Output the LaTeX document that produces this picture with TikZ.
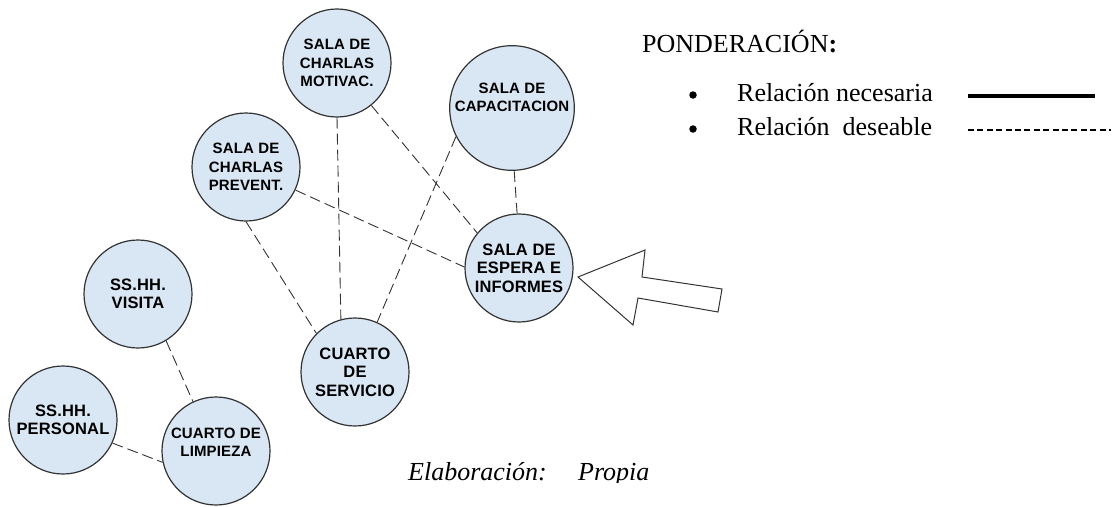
\documentclass[tikz,border=0pt]{standalone}
\usepackage{fontspec}
\setmainfont{Liberation Serif}
\newfontfamily\nodefont{Liberation Sans Bold}[LetterSpace=1]
\begin{document}
\begin{tikzpicture}[x=1pt,y=-1pt,
  place/.style={circle, draw=black!80, line width=1.2pt, fill=circfill,
    minimum size=108pt, inner sep=0pt, align=center,
    font=\nodefont\fontsize{15}{18.3}\selectfont},
  bigtext/.style={font=\nodefont\fontsize{16.5}{18.5}\selectfont},
  rel/.style={draw=black!80, line width=0.9pt, dash pattern=on 11pt off 5pt},
  bullet/.style={circle, fill=black, inner sep=0pt, minimum size=7.5pt},
  legend/.style={font=\fontsize{26}{30}\selectfont, inner sep=0pt, anchor=base west}]
\definecolor{circfill}{HTML}{D9E7F5}
\useasboundingbox (0,0) rectangle (1115,506);

% places
\node[place] (mot)  at (337,63)  {SALA DE\\CHARLAS\\MOTIVAC.};
\node[place] (cap)  at (512,108) {SALA DE\\CAPACITACION\\[-2pt]\strut};
\node[place] (prev) at (246,167) {SALA DE\\CHARLAS\\PREVENT.};
\node[place, bigtext] (esp) at (519,268) {SALA DE\\ESPERA E\\INFORMES};
\node[place, bigtext] (vis) at (138,294) {SS.HH.\\VISITA};
\node[place, bigtext] (serv) at (355,372) {CUARTO\\DE\\SERVICIO};
\node[place, bigtext] (pers) at (63,420) {SS.HH.\\PERSONAL};
\node[place] (limp) at (216,451) {CUARTO DE\\LIMPIEZA\\[-6pt]\strut};

% relations
\draw[rel] (mot.270)  -- (serv.105);
\draw[rel] (mot.-51)  -- (esp.140);
\draw[rel] (cap.-153) -- (serv.66);
\draw[rel] (cap.-88)  -- (esp.92);
\draw[rel] (prev.-25) -- (esp.179);
\draw[rel] (prev.-90) -- (serv.135);
\draw[rel] (vis.-59)  -- (limp.115);
\draw[rel] (pers.-25) -- (limp.192);

% block arrow
\draw[black!80, line width=1pt, fill=white, line join=miter]
  (578,277) -- (645,250) -- (642,277) -- (722,289) -- (718,312)
  -- (638,298) -- (633,325) -- cycle;

% legend
\node[legend] (pond) at (642,52) {PONDERACIÓN\textbf{:}};
\node[bullet] (b1) at (693,95) {};
\node[bullet] (b2) at (693,129) {};
\node[legend] (nec) at (737,101) {Relación necesaria};
\node[legend] (des) at (737,135) {Relación\ \ deseable};
\coordinate (s1) at (968,96);
\coordinate (s2) at (1095,96);
\coordinate (d1) at (968,130);
\coordinate (d2) at (1111,130);
\draw[black, line width=3.2pt] (s1) -- (s2);
\draw[black, line width=1.4pt, dash pattern=on 6pt off 3.4pt] (d1) -- (d2);

% source
\begin{scope}
  \clip (380,440) rectangle (700,482);
  \node[legend, font=\itshape\fontsize{26}{30}\selectfont] (elab) at (408,480) {Elaboración:};
  \node[legend, font=\itshape\fontsize{26}{30}\selectfont] (prop) at (578,480) {Propia};
\end{scope}
\end{tikzpicture}
\end{document}
